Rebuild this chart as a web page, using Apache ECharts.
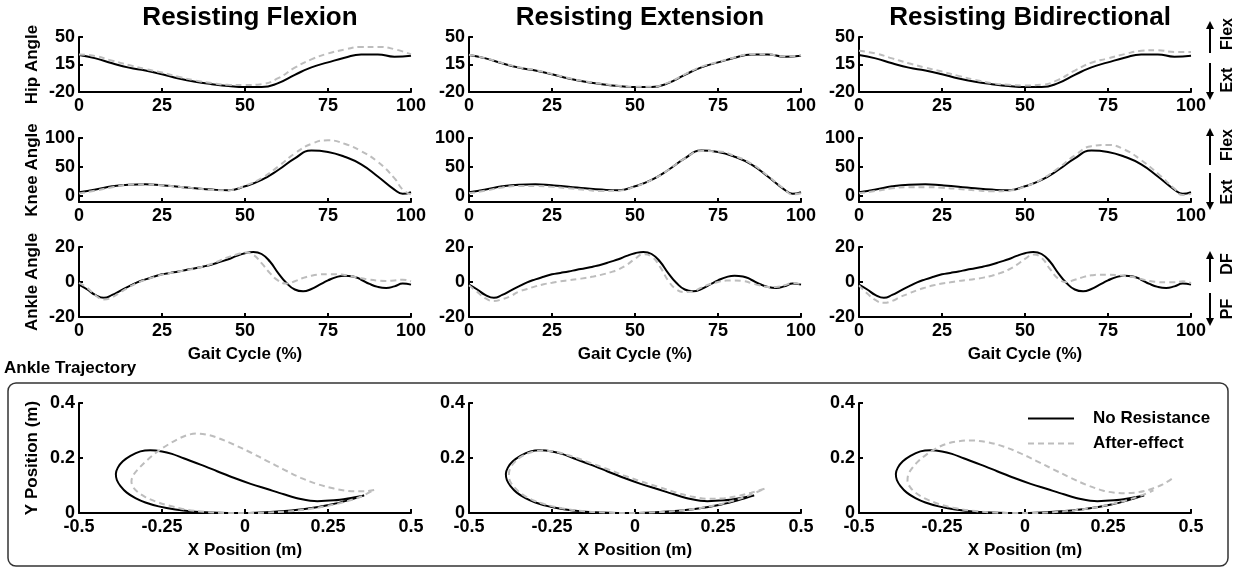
<!DOCTYPE html>
<html><head><meta charset="utf-8">
<script src="https://cdn.jsdelivr.net/npm/echarts@6/dist/echarts.min.js"></script>
<style>html,body{margin:0;padding:0;background:#fff}#c{width:1236px;height:569px}</style>
</head><body><div id="c"></div>
<script>
// ---------- DATA ----------
const columnTitles = ['Resisting Flexion', 'Resisting Extension', 'Resisting Bidirectional'];
const seriesNames = ['No Resistance', 'After-effect'];
const rowNames = ['Hip Angle', 'Knee Angle', 'Ankle Angle', 'Y Position (m)'];

const hipX = [0,5,10,15,20,25,30,35,40,45,50,55,60,65,70,75,80,85,90,95,100];
const hipNoResistance = [27,22.8,16.5,11,7.3,2.6,-2.8,-7,-10,-12.4,-13.7,-13.7,-8.7,1.8,11.4,17.7,23.6,27.8,27.8,24.9,26];
const hipAfterFlexion = [27.8,25.7,19.8,14.4,9.3,4.7,-0.7,-5.3,-8.7,-10.8,-11.2,-10,-2.4,11,21.5,29,34,37.4,37.4,34.5,27.8];
const hipAfterExtension = [27.5,23,17,11.5,8,3,-2.3,-6.5,-9.6,-12,-13.3,-13.3,-8,2.5,12,18.2,24,28.3,28,25.3,26.5];
const hipAfterBidirectional = [32.4,29,22.8,16.5,11,6,0.5,-4.5,-8.7,-10.8,-11.6,-10.8,-4.5,7.3,17.3,22.8,28.2,32.4,33.2,31,31];

const kneeX = [0,5,10,15,20,25,30,35,40,45,50,55,60,65,70,75,80,85,90,95,97.5,100];
const kneeNoResistance = [6.8,11.3,17,19.8,20.3,18.6,16.4,13.6,11.3,10.2,17,28,45,65,78.5,76,67.8,54.8,33.9,11.3,4,6.8];
const kneeAfterFlexion = [4.5,9.6,15.3,19.8,20.3,18.6,16.4,13.6,10.7,10.2,18,31,51,73.4,90,96,90,77.4,59,31,11.3,3];
const kneeAfterExtension = [5,9.5,15,17.5,17.5,16,13.5,11,9,9.5,16.5,28,45,65,77.5,77,69,56,35,12,3,5];
const kneeAfterBidirectional = [5,9,13.5,15.5,15.5,14.5,12.5,10,8.5,9.5,16.5,29,48,70,86,88,80,62,39,13,2,4];

const ankleX = [0,2.5,5,7.5,10,12.5,15,17.5,20,22.5,25,27.5,30,32.5,35,37.5,40,42.5,45,47.5,50,52.5,55,57.5,60,62.5,65,67.5,70,72.5,75,77.5,80,82.5,85,87.5,90,92.5,95,97.5,100];
const ankleNoResistance = [-1.5,-4.3,-7.5,-9,-7.4,-4.9,-2.5,-0.2,1.5,3,4.4,5.2,6,7,7.8,8.9,10,11.5,13,14.9,16.4,17.2,16,11.7,5.1,-0.6,-4.3,-5.3,-4,-1.5,0.9,2.8,3.6,3.2,1.3,-1.1,-2.8,-3.4,-2.5,-0.9,-1.5];
const ankleAfterFlexion = [-0.5,-3.4,-7.7,-10,-8.7,-5.8,-3,-0.6,1.3,2.8,4.2,5.1,6,7,7.7,8.9,10.4,12.3,14.2,15.7,16.8,15.5,10.8,5.1,0.8,-0.9,0.4,2.3,3.6,4.3,4.5,4.5,4,3.2,2.1,1.3,0.8,0.6,0.9,1.3,0.4];
const ankleAfterExtension = [-1.9,-5.7,-9.4,-10.9,-9.8,-8.1,-5.5,-4,-2.5,-1.3,-0.4,0.4,1,1.6,2.3,3.1,4.2,5.5,7.2,9.8,13.2,15.8,14.5,8.8,0.8,-4.3,-5.7,-5.3,-3.2,-1.3,0,0.8,0.9,0.6,-0.6,-1.9,-2.8,-2.8,-1.9,-0.6,-1.3];
const ankleAfterBidirectional = [-1.9,-6.6,-10.4,-11.9,-10.8,-8.5,-6.6,-4.7,-3.2,-1.9,-0.9,-0.2,0.6,1.1,1.7,2.5,3.6,5.1,7,9.8,13.2,15.7,13.8,7.5,1.9,0,1.3,2.8,3.8,4.2,4.2,4,3.4,2.8,1.7,0.6,0,-0.2,-0.2,0.4,-0.6];

const trajNoResistanceX = [0.359,0.31,0.268,0.218,0.168,0.117,0.067,0.017,-0.034,-0.084,-0.134,-0.185,-0.22,-0.25,-0.285,-0.315,-0.345,-0.368,-0.383,-0.389,-0.386,-0.375,-0.356,-0.33,-0.3,-0.26,-0.21,-0.15,-0.08,-0.02,0.05,0.12,0.19,0.26,0.31,0.359];
const trajNoResistanceY = [0.064,0.053,0.046,0.043,0.051,0.068,0.087,0.106,0.128,0.152,0.176,0.199,0.215,0.224,0.228,0.224,0.208,0.188,0.165,0.142,0.12,0.098,0.074,0.054,0.038,0.024,0.013,0.005,0.001,0,0.002,0.007,0.016,0.031,0.046,0.064];
const trajAfterFlexionX = [0.389,0.36,0.33,0.3,0.268,0.218,0.168,0.117,0.067,0.017,-0.034,-0.084,-0.115,-0.145,-0.175,-0.2,-0.23,-0.265,-0.295,-0.32,-0.336,-0.342,-0.337,-0.325,-0.3,-0.27,-0.23,-0.175,-0.12,-0.06,0,0.06,0.12,0.18,0.24,0.3,0.35,0.389];
const trajAfterFlexionY = [0.084,0.079,0.079,0.082,0.089,0.105,0.128,0.158,0.189,0.22,0.249,0.274,0.285,0.289,0.283,0.27,0.25,0.222,0.192,0.162,0.138,0.115,0.095,0.078,0.058,0.042,0.027,0.012,0.004,0,0,0.001,0.005,0.012,0.024,0.04,0.06,0.084];
const trajAfterExtensionX = [0.39,0.35,0.31,0.27,0.22,0.17,0.12,0.07,0.017,-0.034,-0.084,-0.134,-0.185,-0.22,-0.25,-0.28,-0.31,-0.34,-0.362,-0.376,-0.38,-0.376,-0.363,-0.342,-0.31,-0.27,-0.22,-0.15,-0.08,-0.02,0.05,0.12,0.19,0.26,0.33,0.39];
const trajAfterExtensionY = [0.088,0.074,0.062,0.054,0.052,0.06,0.076,0.095,0.115,0.137,0.16,0.182,0.204,0.217,0.225,0.227,0.222,0.207,0.186,0.162,0.138,0.115,0.093,0.07,0.048,0.031,0.017,0.006,0.001,0,0.002,0.007,0.017,0.033,0.058,0.088];
const trajAfterBidirectionalX = [0.442,0.415,0.387,0.36,0.33,0.3,0.27,0.236,0.186,0.136,0.085,0.035,-0.015,-0.065,-0.115,-0.166,-0.2,-0.235,-0.266,-0.295,-0.32,-0.34,-0.352,-0.354,-0.346,-0.33,-0.3,-0.26,-0.216,-0.16,-0.1,-0.04,0.02,0.085,0.15,0.21,0.27,0.33,0.387];
const trajAfterBidirectionalY = [0.124,0.104,0.09,0.08,0.074,0.072,0.074,0.081,0.102,0.129,0.159,0.189,0.218,0.242,0.258,0.264,0.261,0.252,0.236,0.214,0.19,0.163,0.138,0.115,0.094,0.074,0.052,0.033,0.019,0.008,0.002,0,0,0.003,0.01,0.02,0.035,0.055,0.082];

// ---------- BUILD ----------
const zip = (xs, ys) => xs.map((x, i) => [x, ys[i]]);
const FONT = '"Liberation Sans", Arial, Helvetica, sans-serif';
const colLeft = [79, 469, 859], colWidth = 332;
const rows = [
  {top: 37, h: 55, x: hipX, base: hipNoResistance, after: [hipAfterFlexion, hipAfterExtension, hipAfterBidirectional], y: {min: -20, max: 50, interval: 35}},
  {top: 138, h: 64, x: kneeX, base: kneeNoResistance, after: [kneeAfterFlexion, kneeAfterExtension, kneeAfterBidirectional], y: {min: -10, max: 100, custom: [0, 50, 100]}},
  {top: 247, h: 70, x: ankleX, base: ankleNoResistance, after: [ankleAfterFlexion, ankleAfterExtension, ankleAfterBidirectional], y: {min: -20, max: 20, interval: 20}, xName: 'Gait Cycle (%)'},
  {top: 403, h: 110, traj: true, y: {min: 0, max: 0.4, interval: 0.2}, xName: 'X Position (m)'}
];
const trajBase = zip(trajNoResistanceX, trajNoResistanceY);
const trajAfter = [zip(trajAfterFlexionX, trajAfterFlexionY), zip(trajAfterExtensionX, trajAfterExtensionY), zip(trajAfterBidirectionalX, trajAfterBidirectionalY)];

const labelStyle = {color: '#000', fontFamily: FONT, fontWeight: 'bold', fontSize: 18};
const nameStyle = {color: '#000', fontFamily: FONT, fontWeight: 'bold', fontSize: 17};
const lineAx = {show: true, onZero: false, lineStyle: {color: '#000', width: 2}};
const tickAx = {show: true, inside: true, length: 4, lineStyle: {color: '#000', width: 2}};

const grid = [], xAxis = [], yAxis = [], blackSeries = [], dashSeries = [];
rows.forEach((r, ri) => {
  for (let c = 0; c < 3; c++) {
    const idx = grid.length;
    grid.push({left: colLeft[c], width: colWidth, top: r.top, height: r.h, containLabel: false});
    xAxis.push({
      type: 'value', gridIndex: idx,
      min: r.traj ? -0.5 : 0, max: r.traj ? 0.5 : 100, interval: r.traj ? 0.25 : 25,
      axisLine: lineAx, axisTick: tickAx, splitLine: {show: false},
      axisLabel: Object.assign({margin: 5, showMinLabel: true, showMaxLabel: true}, labelStyle),
      name: r.xName || '', nameLocation: 'middle', nameGap: 29, nameTextStyle: nameStyle
    });
    const ya = {
      type: 'value', gridIndex: idx, min: r.y.min, max: r.y.max,
      axisLine: lineAx, splitLine: {show: false},
      axisTick: Object.assign({}, tickAx),
      axisLabel: Object.assign({margin: 4, showMinLabel: true, showMaxLabel: true}, labelStyle),
      name: c === 0 ? rowNames[ri] : '', nameLocation: 'middle', nameGap: 38, nameRotate: 90,
      nameTextStyle: nameStyle
    };
    if (r.y.custom) {
      ya.interval = 50;
      ya.axisLabel.customValues = r.y.custom;
      ya.axisTick.customValues = r.y.custom;
    } else {
      ya.interval = r.y.interval;
    }
    yAxis.push(ya);
    const baseData = r.traj ? trajBase : zip(r.x, r.base);
    const afterData = r.traj ? trajAfter[c] : zip(r.x, r.after[c]);
    const sm = r.traj ? 0.35 : 0.5;
    blackSeries.push({
      name: seriesNames[0], type: 'line', xAxisIndex: idx, yAxisIndex: idx,
      data: baseData, symbol: 'none', showSymbol: false, smooth: sm, z: 3,
      lineStyle: {color: '#000', width: 2}, itemStyle: {color: '#000'}
    });
    dashSeries.push({
      name: seriesNames[1], type: 'line', xAxisIndex: idx, yAxisIndex: idx,
      data: afterData, symbol: 'none', showSymbol: false, smooth: sm, z: 4,
      lineStyle: {color: '#bdbdbd', width: 2, type: [6, 4]}, itemStyle: {color: '#bdbdbd'}
    });
  }
});

const txt = (s, x, y, size, rot, align) => ({
  type: 'text', x: x, y: y, rotation: rot || 0, silent: true,
  style: {text: s, fill: '#000', fontFamily: FONT, fontWeight: 'bold', fontSize: size, align: align || 'center', verticalAlign: 'middle', textAlign: align || 'center', textVerticalAlign: 'middle'}
});
const arrow = (x, yFrom, yTo) => {
  const dir = yTo < yFrom ? -1 : 1;
  return [
    {type: 'line', silent: true, shape: {x1: x, y1: yFrom, x2: x, y2: yTo - dir * 6}, style: {stroke: '#000', lineWidth: 2}},
    {type: 'polygon', silent: true, shape: {points: [[x - 4, yTo - dir * 8], [x + 4, yTo - dir * 8], [x, yTo]]}, style: {fill: '#000'}}
  ];
};
const AX = 1210, TX = 1228;
const graphic = [
  {type: 'rect', silent: true, z: -10, shape: {x: 8, y: 383, width: 1220, height: 183, r: 8}, style: {fill: 'none', stroke: '#333', lineWidth: 1.5}},
  txt('Ankle Trajectory', 4, 368, 17, 0, 'left'),
  ...arrow(AX, 53, 21), ...arrow(AX, 63, 100),
  ...arrow(AX, 165, 128), ...arrow(AX, 173, 210),
  ...arrow(AX, 282, 251), ...arrow(AX, 293, 326),
  txt('Flex', TX, 34, 16, Math.PI / 2), txt('Ext', TX, 80, 16, Math.PI / 2),
  txt('Flex', TX, 145, 16, Math.PI / 2), txt('Ext', TX, 192, 16, Math.PI / 2),
  txt('DF', TX, 264, 16, Math.PI / 2), txt('PF', TX, 309, 16, Math.PI / 2)
];

const option = {
  animation: false,
  backgroundColor: '#fff',
  title: columnTitles.map((t, i) => ({
    text: t, left: colLeft[i] + colWidth / 2, top: 0, textAlign: 'center',
    textStyle: {fontFamily: FONT, fontWeight: 'bold', fontSize: 26, color: '#000'}
  })),
  legend: {
    data: seriesNames, orient: 'vertical', left: 1022, top: 405, itemWidth: 46, itemHeight: 14, itemGap: 8,
    selectedMode: false, itemStyle: {opacity: 0},
    textStyle: {fontFamily: FONT, fontWeight: 'bold', fontSize: 17, color: '#000', padding: [0, 0, 0, 14]}
  },
  grid, xAxis, yAxis,
  series: blackSeries.concat(dashSeries),
  graphic
};
const chart = echarts.init(document.getElementById('c'));
chart.setOption(option);
</script></body></html>
